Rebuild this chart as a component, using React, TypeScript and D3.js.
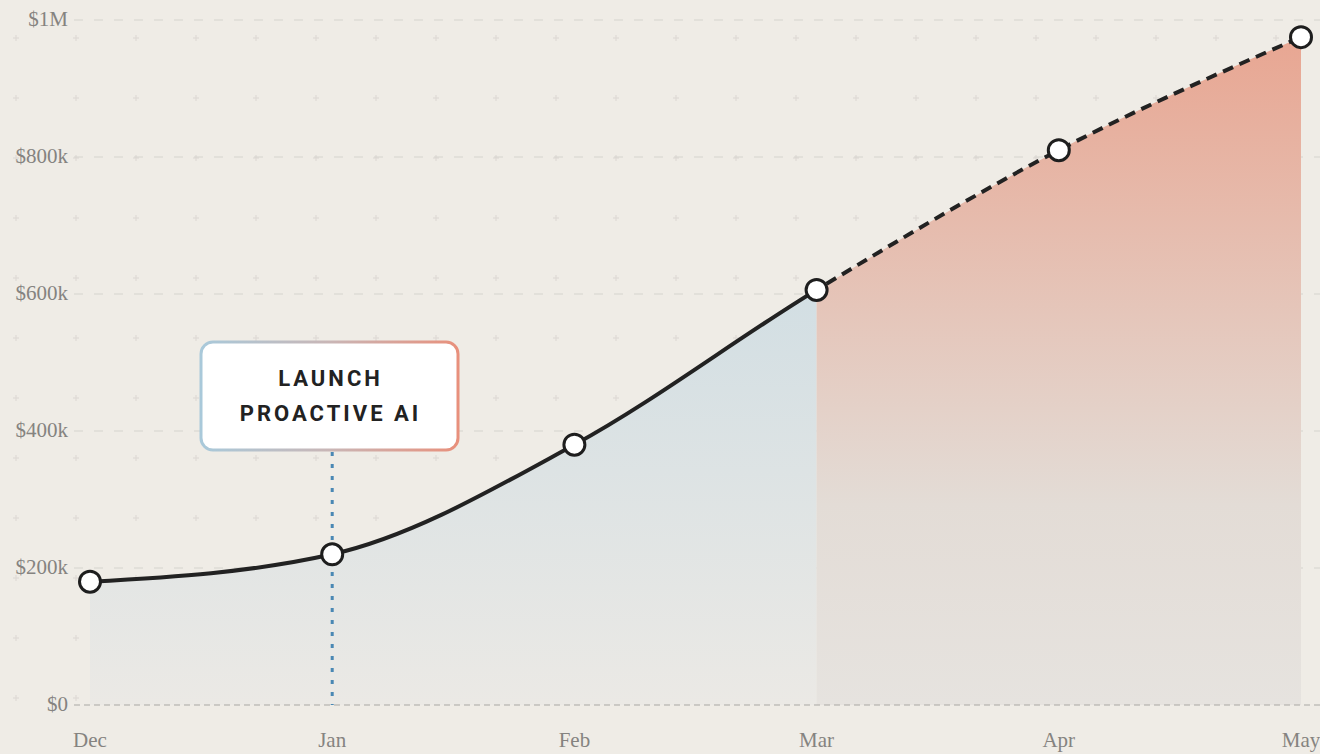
import * as d3 from "d3";
import { useEffect, useRef } from "react";

const months = ["Dec", "Jan", "Feb", "Mar", "Apr", "May"];
const revenue = [180000, 220000, 380000, 606000, 810000, 975000];
const yTicks = [0, 200000, 400000, 600000, 800000, 1000000];
const yTickLabels = ["$0", "$200k", "$400k", "$600k", "$800k", "$1M"];
const actualUntil = "Mar";
const annotationMonth = "Jan";
const annotationLines = ["LAUNCH", "PROACTIVE AI"];

const App = () => {
    const svgRef = useRef<SVGSVGElement | null>(null);

    const dimensions = { width: 1320, height: 754 };
    const margin = { top: 20, right: 19, bottom: 49, left: 90 };

    useEffect(() => {
        const svg = d3.select(svgRef.current);
        svg.selectAll("*").remove();

        const points = months.map((m, i) => ({ month: m, value: revenue[i] }));

        const xScale = d3
            .scalePoint<string>()
            .domain(months)
            .range([margin.left, dimensions.width - margin.right]);

        const yScale = d3
            .scaleLinear()
            .domain([0, 1000000])
            .range([dimensions.height - margin.bottom, margin.top]);

        const splitX = xScale(actualUntil) as number;
        const bottom = yScale(0);

        svg.append("rect")
            .attr("width", dimensions.width)
            .attr("height", dimensions.height)
            .attr("fill", "#efece6");

        const defs = svg.append("defs");

        const blueGrad = defs
            .append("linearGradient")
            .attr("id", "blueFill")
            .attr("x1", 0)
            .attr("y1", 0)
            .attr("x2", 0)
            .attr("y2", 1);
        blueGrad.append("stop").attr("offset", "0%").attr("stop-color", "#c3d8e2");
        blueGrad.append("stop").attr("offset", "100%").attr("stop-color", "#ebe9e5");

        const redGrad = defs
            .append("linearGradient")
            .attr("id", "redFill")
            .attr("x1", 0)
            .attr("y1", 0)
            .attr("x2", 0)
            .attr("y2", 1);
        redGrad.append("stop").attr("offset", "0%").attr("stop-color", "#e8a692");
        redGrad.append("stop").attr("offset", "70%").attr("stop-color", "#e3dcd6");
        redGrad.append("stop").attr("offset", "100%").attr("stop-color", "#e6e3df");

        const boxGrad = defs
            .append("linearGradient")
            .attr("id", "boxStroke")
            .attr("x1", 0)
            .attr("y1", 0)
            .attr("x2", 1)
            .attr("y2", 0);
        boxGrad.append("stop").attr("offset", "0%").attr("stop-color", "#a9c9da");
        boxGrad.append("stop").attr("offset", "50%").attr("stop-color", "#c9b6b6");
        boxGrad.append("stop").attr("offset", "100%").attr("stop-color", "#e8907c");

        defs.append("clipPath")
            .attr("id", "clipLeft")
            .append("rect")
            .attr("x", 0)
            .attr("y", 0)
            .attr("width", splitX)
            .attr("height", dimensions.height);

        defs.append("clipPath")
            .attr("id", "clipRight")
            .append("rect")
            .attr("x", splitX)
            .attr("y", 0)
            .attr("width", dimensions.width - splitX)
            .attr("height", dimensions.height);

        // faint "+" pattern in the background
        const crossG = svg.append("g").attr("stroke", "#dedbd5").attr("stroke-width", 1.2);
        for (let x = 16; x < dimensions.width; x += 60) {
            for (let y = 38; y < dimensions.height - 40; y += 60) {
                crossG.append("line").attr("x1", x - 3).attr("x2", x + 3).attr("y1", y).attr("y2", y);
                crossG.append("line").attr("x1", x).attr("x2", x).attr("y1", y - 3).attr("y2", y + 3);
            }
        }

        // gridlines
        svg.append("g")
            .selectAll("line")
            .data(yTicks.filter((t) => t > 0))
            .join("line")
            .attr("x1", 74)
            .attr("x2", dimensions.width)
            .attr("y1", (d) => yScale(d))
            .attr("y2", (d) => yScale(d))
            .attr("stroke", "#d6d3cd")
            .attr("stroke-width", 1.2)
            .attr("stroke-dasharray", "9,11");

        const curve = d3.curveMonotoneX;

        const area = d3
            .area<{ month: string; value: number }>()
            .x((d) => xScale(d.month) as number)
            .y0(bottom)
            .y1((d) => yScale(d.value))
            .curve(curve);

        const line = d3
            .line<{ month: string; value: number }>()
            .x((d) => xScale(d.month) as number)
            .y((d) => yScale(d.value))
            .curve(curve);

        const idx = months.indexOf(actualUntil);
        const rightPts = points.slice(idx);

        svg.append("path")
            .datum(points)
            .attr("d", area)
            .attr("clip-path", "url(#clipLeft)")
            .attr("fill", "url(#blueFill)");

        svg.append("path")
            .datum(rightPts)
            .attr("d", area)
            .attr("fill", "url(#redFill)");

        // baseline
        svg.append("line")
            .attr("x1", 74)
            .attr("x2", dimensions.width)
            .attr("y1", bottom)
            .attr("y2", bottom)
            .attr("stroke", "#a9a7a3")
            .attr("stroke-width", 1.2)
            .attr("stroke-dasharray", "6,4");

        // annotation stem
        const annX = xScale(annotationMonth) as number;
        svg.append("line")
            .attr("x1", annX)
            .attr("x2", annX)
            .attr("y1", 452)
            .attr("y2", bottom)
            .attr("stroke", "#4a88b4")
            .attr("stroke-width", 3)
            .attr("stroke-dasharray", "4,8");

        svg.append("path")
            .datum(points)
            .attr("d", line)
            .attr("clip-path", "url(#clipLeft)")
            .attr("fill", "none")
            .attr("stroke", "#222")
            .attr("stroke-width", 4);

        svg.append("path")
            .datum(points)
            .attr("d", line)
            .attr("clip-path", "url(#clipRight)")
            .attr("fill", "none")
            .attr("stroke", "#222")
            .attr("stroke-width", 4)
            .attr("stroke-dasharray", "11,7");

        svg.append("g")
            .selectAll("circle")
            .data(points)
            .join("circle")
            .attr("cx", (d) => xScale(d.month) as number)
            .attr("cy", (d) => yScale(d.value))
            .attr("r", 10.5)
            .attr("fill", "#fff")
            .attr("stroke", "#1e1e1e")
            .attr("stroke-width", 3);

        // annotation box
        const box = { x: 201, y: 342, w: 257, h: 108 };
        svg.append("rect")
            .attr("x", box.x)
            .attr("y", box.y)
            .attr("width", box.w)
            .attr("height", box.h)
            .attr("rx", 12)
            .attr("fill", "#fff")
            .attr("stroke", "url(#boxStroke)")
            .attr("stroke-width", 3);

        svg.append("g")
            .selectAll("text")
            .data(annotationLines)
            .join("text")
            .attr("x", box.x + box.w / 2 + 1)
            .attr("y", (_, i) => 386 + i * 35)
            .attr("text-anchor", "middle")
            .attr("font-family", "Roboto, sans-serif")
            .attr("font-weight", 700)
            .attr("font-size", 22)
            .attr("letter-spacing", 3)
            .attr("fill", "#222")
            .text((d) => d);

        // axis labels
        svg.append("g")
            .selectAll("text")
            .data(yTicks)
            .join("text")
            .attr("x", 68)
            .attr("y", (d) => yScale(d) + 6)
            .attr("text-anchor", "end")
            .attr("font-family", "'Liberation Serif', serif")
            .attr("font-size", 21)
            .attr("fill", "#858380")
            .text((_, i) => yTickLabels[i]);

        svg.append("g")
            .selectAll("text")
            .data(months)
            .join("text")
            .attr("x", (d) => xScale(d) as number)
            .attr("y", 747)
            .attr("text-anchor", "middle")
            .attr("font-family", "'Liberation Serif', serif")
            .attr("font-size", 21)
            .attr("fill", "#858380")
            .text((d) => d);
    }, []);

    return (
        <div style={{ position: "fixed", left: 0, top: 0 }}>
            <svg
                ref={svgRef}
                width={dimensions.width}
                height={dimensions.height}
                style={{ display: "block" }}
            />
        </div>
    );
};

export default App;
